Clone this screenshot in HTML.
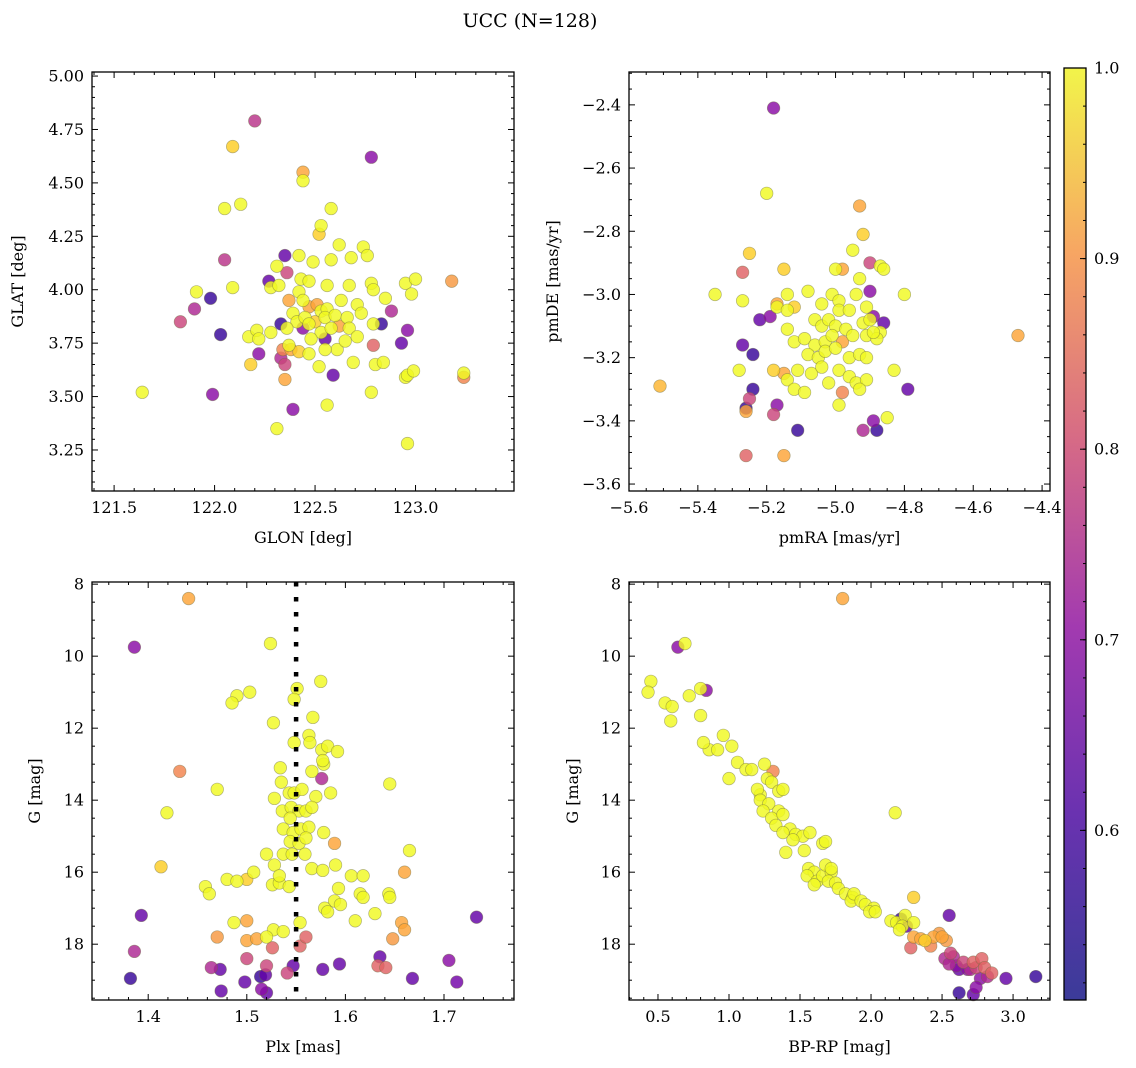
<!DOCTYPE html>
<html><head><meta charset="utf-8"><style>
body{margin:0;background:#fff;}
svg{display:block;font-family:"DejaVu Serif","Liberation Serif",serif;}
</style></head><body>
<svg id="fig" width="1136" height="1068" viewBox="0 0 1136 1068" xmlns="http://www.w3.org/2000/svg">
<defs><linearGradient id="cbg" x1="0" y1="1" x2="0" y2="0">
<stop offset="0" stop-color="#3b3b99"/><stop offset="0.2" stop-color="#6a32b0"/><stop offset="0.4" stop-color="#a23ab0"/><stop offset="0.6" stop-color="#d66a86"/><stop offset="0.8" stop-color="#f7a563"/><stop offset="1" stop-color="#f2f44a"/></linearGradient></defs>
<text x="530" y="27" font-size="19" text-anchor="middle">UCC (N=128)</text>
</svg>
<script>
// Panel 1: GLON vs GLAT
const p1x=[122.20,122.09,122.78,122.44,122.44,122.13,122.05,122.58,122.53,122.52,122.42,122.35,122.05,122.62,122.74,122.76,122.31,122.49,122.58,122.68,122.27,122.36,122.43,122.47,122.56,122.67,122.78,122.95,123.0,123.18,121.91,122.09,122.28,122.32,121.90,121.98,121.83,122.37,122.42,122.44,122.47,122.51,122.53,122.56,122.63,122.71,122.79,122.85,122.88,122.98,122.39,122.41,122.45,122.50,122.55,122.60,122.66,122.73,122.36,122.33,122.44,122.47,122.53,122.58,122.62,122.67,122.79,122.83,122.96,122.03,122.17,122.21,122.22,122.28,122.37,122.48,122.55,122.61,122.65,122.71,122.79,122.93,122.22,122.34,122.38,122.42,122.47,122.55,122.18,122.33,122.35,122.52,122.69,122.80,122.84,122.59,122.35,122.95,122.96,122.99,123.24,123.24,121.64,121.99,122.78,122.39,122.56,122.31,122.96];
const p1y=[4.79,4.67,4.62,4.55,4.51,4.40,4.38,4.38,4.30,4.26,4.16,4.16,4.14,4.21,4.20,4.16,4.11,4.13,4.14,4.15,4.04,4.08,4.05,4.04,4.02,4.02,4.03,4.03,4.05,4.04,3.99,4.01,4.01,4.02,3.91,3.96,3.85,3.95,3.99,3.95,3.92,3.93,3.90,3.91,3.95,3.93,4.00,3.96,3.90,3.98,3.89,3.85,3.87,3.85,3.87,3.88,3.87,3.89,3.82,3.84,3.82,3.84,3.80,3.82,3.83,3.82,3.84,3.84,3.81,3.79,3.78,3.81,3.77,3.80,3.74,3.77,3.77,3.72,3.76,3.78,3.74,3.75,3.70,3.72,3.72,3.71,3.70,3.72,3.65,3.68,3.65,3.64,3.66,3.65,3.66,3.60,3.58,3.59,3.60,3.62,3.61,3.59,3.52,3.51,3.52,3.44,3.46,3.35,3.28];
const p1c=[0.72,0.95,0.65,0.9,1,1,1,1,1,0.95,1,0.6,0.72,1,1,1,1,1,1,1,0.6,0.75,1,1,1,1,1,1,1,0.88,1,1,1,1,0.7,0.55,0.75,0.9,1,1,0.9,0.9,1,1,1,1,1,1,0.7,1,1,1,1,0.95,1,1,1,1,1,0.55,0.65,1,1,1,0.9,1,1,0.55,0.65,0.55,1,1,1,1,1,1,0.6,1,1,1,0.8,0.6,0.65,0.85,0.9,0.95,1,1,0.95,0.7,0.75,1,1,1,1,0.6,0.9,1,1,1,1,0.85,1,0.65,1,0.65,1,1,1];
// Panel 2: pmRA vs pmDE
const p2x=[-5.18,-5.20,-4.93,-4.92,-5.25,-5.27,-4.95,-5.15,-4.90,-4.87,-4.86,-4.93,-5.00,-4.98,-5.35,-5.27,-5.14,-5.08,-5.01,-4.99,-4.94,-4.90,-4.80,-5.17,-5.17,-5.14,-5.12,-5.04,-4.99,-4.96,-4.91,-5.22,-5.19,-5.14,-5.06,-5.04,-5.02,-5.00,-4.97,-4.92,-4.90,-4.89,-4.86,-4.87,-5.27,-5.24,-5.12,-5.09,-5.06,-5.03,-5.01,-4.98,-4.95,-4.91,-4.88,-4.89,-5.08,-5.05,-5.03,-5.00,-4.96,-4.93,-4.91,-4.83,-4.47,-5.28,-5.18,-5.15,-5.14,-5.11,-5.07,-5.04,-4.99,-4.96,-4.94,-4.91,-5.51,-5.24,-5.12,-5.02,-4.98,-4.93,-4.79,-5.25,-5.26,-5.26,-5.09,-4.99,-5.18,-5.17,-5.11,-4.92,-4.89,-4.88,-4.85,-5.26,-5.15];
const p2y=[-2.41,-2.68,-2.72,-2.81,-2.87,-2.93,-2.86,-2.92,-2.90,-2.91,-2.92,-2.95,-2.92,-2.92,-3.00,-3.02,-3.00,-2.99,-3.00,-3.02,-3.00,-2.99,-3.00,-3.03,-3.04,-3.05,-3.04,-3.03,-3.05,-3.05,-3.04,-3.08,-3.07,-3.11,-3.08,-3.10,-3.08,-3.10,-3.11,-3.09,-3.08,-3.07,-3.09,-3.12,-3.16,-3.19,-3.15,-3.14,-3.16,-3.15,-3.13,-3.15,-3.13,-3.13,-3.14,-3.12,-3.19,-3.20,-3.18,-3.17,-3.20,-3.19,-3.20,-3.24,-3.13,-3.24,-3.24,-3.25,-3.27,-3.24,-3.25,-3.23,-3.24,-3.26,-3.28,-3.27,-3.29,-3.30,-3.30,-3.28,-3.31,-3.30,-3.30,-3.33,-3.36,-3.37,-3.31,-3.35,-3.38,-3.35,-3.43,-3.43,-3.40,-3.43,-3.39,-3.51,-3.51];
const p2c=[0.65,1,0.9,0.95,0.95,0.8,1,0.95,0.75,1,1,1,1,0.9,1,1,1,1,1,1,1,0.65,1,0.9,1,1,0.95,1,1,1,1,0.6,0.65,1,1,1,1,1,1,1,1,0.65,0.6,1,0.6,0.55,1,1,1,1,1,0.9,1,1,1,1,1,1,1,1,1,1,1,1,0.9,1,0.95,0.9,1,1,1,1,1,1,1,1,0.92,0.55,1,1,0.85,1,0.6,0.75,0.55,0.9,1,1,0.75,0.65,0.55,0.7,0.65,0.55,1,0.8,0.9];
// Panel 3: Plx vs G
const p3x=[1.441,1.386,1.524,1.490,1.503,1.485,1.575,1.551,1.527,1.548,1.567,1.548,1.563,1.564,1.576,1.582,1.592,1.432,1.534,1.578,1.577,1.576,1.566,1.645,1.470,1.528,1.535,1.543,1.548,1.556,1.570,1.585,1.419,1.536,1.545,1.553,1.560,1.566,1.544,1.537,1.547,1.555,1.563,1.578,1.544,1.553,1.560,1.589,1.413,1.520,1.528,1.537,1.546,1.559,1.566,1.577,1.590,1.606,1.618,1.665,1.660,1.507,1.458,1.462,1.480,1.490,1.500,1.526,1.533,1.543,1.533,1.593,1.615,1.618,1.644,1.645,1.589,1.595,1.579,1.582,1.610,1.630,1.554,1.487,1.500,1.527,1.537,1.520,1.657,1.660,1.648,1.393,1.733,1.470,1.500,1.510,1.526,1.554,1.560,1.386,1.464,1.500,1.520,1.547,1.577,1.594,1.633,1.641,1.635,1.705,1.382,1.473,1.498,1.514,1.519,1.515,1.520,1.474,1.541,1.668,1.713];
const p3y=[8.4,9.75,9.65,11.1,11.0,11.3,10.7,10.9,11.85,11.2,11.7,12.4,12.2,12.4,12.6,12.5,12.65,13.2,13.1,13.0,12.9,13.4,13.2,13.55,13.7,13.95,13.5,13.8,13.8,13.7,13.9,13.8,14.35,14.3,14.2,14.3,14.3,14.2,14.5,14.8,14.9,14.8,14.75,14.9,15.15,15.2,15.05,15.2,15.85,15.5,15.8,15.5,15.5,15.5,15.9,15.95,15.8,16.1,16.1,15.4,16.0,16.0,16.4,16.6,16.2,16.25,16.2,16.35,16.3,16.4,16.1,16.45,16.6,16.7,16.6,16.7,16.8,16.9,17.0,17.1,17.35,17.15,17.4,17.4,17.35,17.6,17.65,17.8,17.4,17.6,17.85,17.2,17.25,17.8,17.9,17.85,18.1,18.05,17.8,18.2,18.65,18.4,18.6,18.6,18.7,18.55,18.6,18.65,18.35,18.45,18.95,18.7,19.05,18.9,18.85,19.25,19.35,19.3,18.8,18.95,19.05];
const p3c=[0.9,0.65,1,1,1,1,1,1,1,1,1,1,1,1,1,1,1,0.85,1,1,1,0.7,1,1,1,1,1,1,1,1,1,1,1,1,1,1,1,1,1,1,1,1,1,1,1,1,1,0.9,0.95,1,1,1,1,1,1,1,1,1,1,1,0.9,1,1,1,1,1,0.95,1,1,1,1,1,1,1,1,1,1,1,1,1,1,1,1,1,0.9,1,1,1,0.9,0.9,0.88,0.6,0.6,0.88,0.9,0.9,0.8,0.8,0.8,0.7,0.7,0.75,0.75,0.6,0.6,0.6,0.8,0.8,0.6,0.65,0.55,0.6,0.6,0.55,0.6,0.65,0.6,0.6,0.75,0.6,0.62];
// Panel 4: BP-RP vs G
const p4x=[1.80,0.64,0.69,0.45,0.43,0.72,0.80,0.84,0.55,0.60,0.59,0.80,0.86,0.82,0.92,1.02,0.96,1.06,1.12,1.00,1.25,1.31,1.16,1.27,1.30,1.35,1.22,1.38,1.20,1.22,1.28,1.35,1.24,1.30,1.38,1.33,1.43,1.38,1.47,1.52,1.57,1.45,1.40,1.53,2.17,1.66,1.68,1.56,1.60,1.55,1.62,1.66,1.68,1.72,1.72,1.70,1.75,1.60,1.77,1.82,1.87,1.86,1.88,1.93,1.96,2.02,1.99,2.03,2.30,2.14,2.18,2.21,2.24,2.22,2.20,2.25,2.30,2.30,2.35,2.38,2.44,2.48,2.50,2.53,2.55,2.28,2.42,2.56,2.52,2.58,2.60,2.65,2.72,2.78,2.70,2.74,2.80,2.85,2.77,2.62,2.68,2.95,3.16,2.62,2.72,2.74,2.82,2.55];
const p4y=[8.4,9.75,9.65,10.7,11.0,11.1,10.9,10.95,11.3,11.4,11.8,11.65,12.6,12.4,12.6,12.5,12.2,12.95,13.15,13.4,13.0,13.2,13.15,13.4,13.5,13.75,13.85,13.7,13.7,14.0,14.1,14.3,14.3,14.5,14.4,14.7,14.8,14.9,14.95,15.0,14.9,15.1,15.45,15.4,14.35,15.2,15.15,15.9,16.0,16.1,16.25,16.1,15.8,16.0,15.9,16.25,16.3,16.35,16.45,16.6,16.7,16.8,16.6,16.8,16.9,17.0,17.1,17.1,16.7,17.35,17.4,17.3,17.2,17.5,17.6,17.5,17.4,17.8,17.85,17.9,17.8,17.7,17.8,17.9,17.2,18.1,18.05,18.25,18.4,18.35,18.6,18.5,18.5,18.4,18.7,18.65,18.65,18.8,18.95,18.7,18.7,18.95,18.9,19.35,19.4,19.2,18.9,18.55];
const p4c=[0.9,0.65,1,1,1,1,1,0.65,1,1,1,1,1,1,1,1,1,1,1,1,1,0.85,1,1,1,1,1,1,1,1,1,1,1,1,1,1,1,1,1,1,1,1,1,1,1,1,1,1,1,1,1,1,1,1,1,1,1,1,1,1,1,1,1,1,1,1,1,1,0.95,1,1,0.55,1,1,1,0.6,1,0.9,0.9,0.95,0.9,0.88,0.9,0.88,0.6,0.8,0.85,0.75,0.7,0.7,0.65,0.75,0.8,0.8,0.7,0.75,0.8,0.8,0.65,0.6,0.65,0.6,0.55,0.55,0.6,0.65,0.7,0.7];
const cbTicks=[0.6,0.7,0.8,0.9,1.0];

const NS="http://www.w3.org/2000/svg";
const svg=document.getElementById('fig');
function mk(tag,attrs,parent){const e=document.createElementNS(NS,tag);for(const k in attrs)e.setAttribute(k,attrs[k]);(parent||svg).appendChild(e);return e;}
const stops=[[0,[13,8,135]],[0.1,[65,4,157]],[0.2,[106,0,168]],[0.3,[143,13,164]],[0.4,[177,42,144]],[0.5,[204,71,120]],[0.6,[225,100,98]],[0.7,[242,132,75]],[0.8,[252,166,54]],[0.9,[252,206,37]],[1,[240,249,33]]];
const VMIN=0.511,VMAX=1.0;
function cmap(v){let t=(v-VMIN)/(VMAX-VMIN);t=Math.max(0,Math.min(1,t));for(let i=1;i<stops.length;i++){if(t<=stops[i][0]){const a=stops[i-1],b=stops[i];const f=(t-a[0])/(b[0]-a[0]);const c=a[1].map((x,j)=>Math.round(x+(b[1][j]-x)*f));return 'rgb('+c.join(',')+')';}}return 'rgb(240,249,33)';}
function dec(v){return Math.round(v*1e6)/1e6;}
function panel(o){
  const g=mk('g',{});
  
  
  const sx=v=>o.x0+(v-o.xmin)/(o.xmax-o.xmin)*(o.x1-o.x0);
  const sy=v=>o.y1-(v-o.ymin)/(o.ymax-o.ymin)*(o.y1-o.y0);
  const syy=o.invert?(v=>o.y0+(v-o.ymin)/(o.ymax-o.ymin)*(o.y1-o.y0)):sy;
  const pg=mk('g',{},g);
  
  
  const idx=o.xs.map((_,i)=>i).sort((a,b)=>o.cs[a]-o.cs[b]);
  for(const i of idx){const c=mk('circle',{cx:sx(o.xs[i]),cy:syy(o.ys[i]),r:6.3,fill:cmap(o.cs[i]),'fill-opacity':0.82,stroke:'#6b6b40','stroke-opacity':0.5,'stroke-width':0.7},pg);
    
    }
  if(o.vline!==undefined){const l=mk('line',{x1:sx(o.vline),x2:sx(o.vline),y1:o.y0,y2:o.y1,stroke:'#000','stroke-width':4.5,'stroke-dasharray':'4.5 10.5'},g);
    
    }
  const fr=mk('rect',{x:o.x0,y:o.y0,width:o.x1-o.x0,height:o.y1-o.y0,fill:'none',stroke:'#000','stroke-width':1.3},g);
  
  
  for(let v=Math.ceil(o.xmin/o.xminor-1e-6)*o.xminor;v<=o.xmax+1e-9;v+=o.xminor){
    const vv=dec(v);const isMaj=Math.abs(vv/o.xmajor-Math.round(vv/o.xmajor))<1e-6;const L=isMaj?6:3;const X=sx(vv);
    mk('line',{x1:X,x2:X,y1:o.y1,y2:o.y1-L,stroke:'#000','stroke-width':1},g);
    mk('line',{x1:X,x2:X,y1:o.y0,y2:o.y0+L,stroke:'#000','stroke-width':1},g);
    if(isMaj){const t=mk('text',{x:X,y:o.y1+22,'font-size':16,'text-anchor':'middle'},g);t.textContent=o.xfmt(vv);
      
      }
  }
  for(let v=Math.ceil(o.ymin/o.yminor-1e-6)*o.yminor;v<=o.ymax+1e-9;v+=o.yminor){
    const vv=dec(v);const isMaj=Math.abs(vv/o.ymajor-Math.round(vv/o.ymajor))<1e-6;const L=isMaj?6:3;const Y=syy(vv);
    mk('line',{x1:o.x0,x2:o.x0+L,y1:Y,y2:Y,stroke:'#000','stroke-width':1},g);
    mk('line',{x1:o.x1,x2:o.x1-L,y1:Y,y2:Y,stroke:'#000','stroke-width':1},g);
    if(isMaj){const t=mk('text',{x:o.x0-8,y:Y+5.5,'font-size':16,'text-anchor':'end'},g);t.textContent=o.yfmt(vv);
      
      }
  }
  const xl=mk('text',{x:(o.x0+o.x1)/2,y:o.y1+52,'font-size':16,'text-anchor':'middle'},g);xl.textContent=o.xlabel;
  
  
  const yl=mk('text',{x:0,y:0,'font-size':16,'text-anchor':'middle',transform:'translate('+o.ylx+','+((o.y0+o.y1)/2)+') rotate(-90)'},g);yl.textContent=o.ylabel;
  
  
}
const f1=v=>v.toFixed(1),f2=v=>v.toFixed(2),f0=v=>v.toFixed(0);
panel({name:'glon-glat-panel',xs:p1x,ys:p1y,cs:p1c,x0:92,x1:514,y0:72,y1:491,xmin:121.39,xmax:123.49,ymin:3.058,ymax:5.019,xmajor:0.5,xminor:0.1,ymajor:0.25,yminor:0.05,xfmt:f1,yfmt:f2,xlabel:'GLON [deg]',ylabel:'GLAT [deg]',ylx:23});
panel({name:'proper-motion-panel',xs:p2x,ys:p2y,cs:p2c,x0:629,x1:1050,y0:72,y1:491,xmin:-5.6,xmax:-4.377,ymin:-3.622,ymax:-2.296,xmajor:0.2,xminor:0.05,ymajor:0.2,yminor:0.05,xfmt:v=>f1(v).replace('-','\u2212'),yfmt:v=>f1(v).replace('-','\u2212'),xlabel:'pmRA [mas/yr]',ylabel:'pmDE [mas/yr]',ylx:558});
panel({name:'parallax-panel',xs:p3x,ys:p3y,cs:p3c,x0:92,x1:514,y0:582,y1:1000,xmin:1.343,xmax:1.771,ymin:7.94,ymax:19.55,invert:true,xmajor:0.1,xminor:0.02,ymajor:2,yminor:0.5,xfmt:f1,yfmt:f0,xlabel:'Plx [mas]',ylabel:'G [mag]',ylx:40,vline:1.55});
panel({name:'cmd-panel',xs:p4x,ys:p4y,cs:p4c,x0:629,x1:1050,y0:582,y1:1000,xmin:0.296,xmax:3.26,ymin:7.94,ymax:19.55,invert:true,xmajor:0.5,xminor:0.1,ymajor:2,yminor:0.5,xfmt:f1,yfmt:f0,xlabel:'BP-RP [mag]',ylabel:'G [mag]',ylx:578});
const cb=mk('g',{});


const CBX=1064,CBW=22,CBT=68,CBB=1000;
mk('rect',{x:CBX,y:CBT,width:CBW,height:CBB-CBT,fill:'url(#cbg)',stroke:'#000','stroke-width':1.3},cb);
const cy=v=>CBB-(v-VMIN)/(VMAX-VMIN)*(CBB-CBT);
for(let v=0.52;v<=1.0001;v+=0.02){const Y=cy(v);mk('line',{x1:CBX+CBW,x2:CBX+CBW-3,y1:Y,y2:Y,stroke:'#000','stroke-width':1},cb);}
for(const v of cbTicks){const Y=cy(v);mk('line',{x1:CBX+CBW,x2:CBX+CBW-6,y1:Y,y2:Y,stroke:'#000','stroke-width':1},cb);
  const t=mk('text',{x:CBX+CBW+8,y:Y+5.5,'font-size':16},cb);t.textContent=v.toFixed(1);
  
  }
</script>
</body></html>
